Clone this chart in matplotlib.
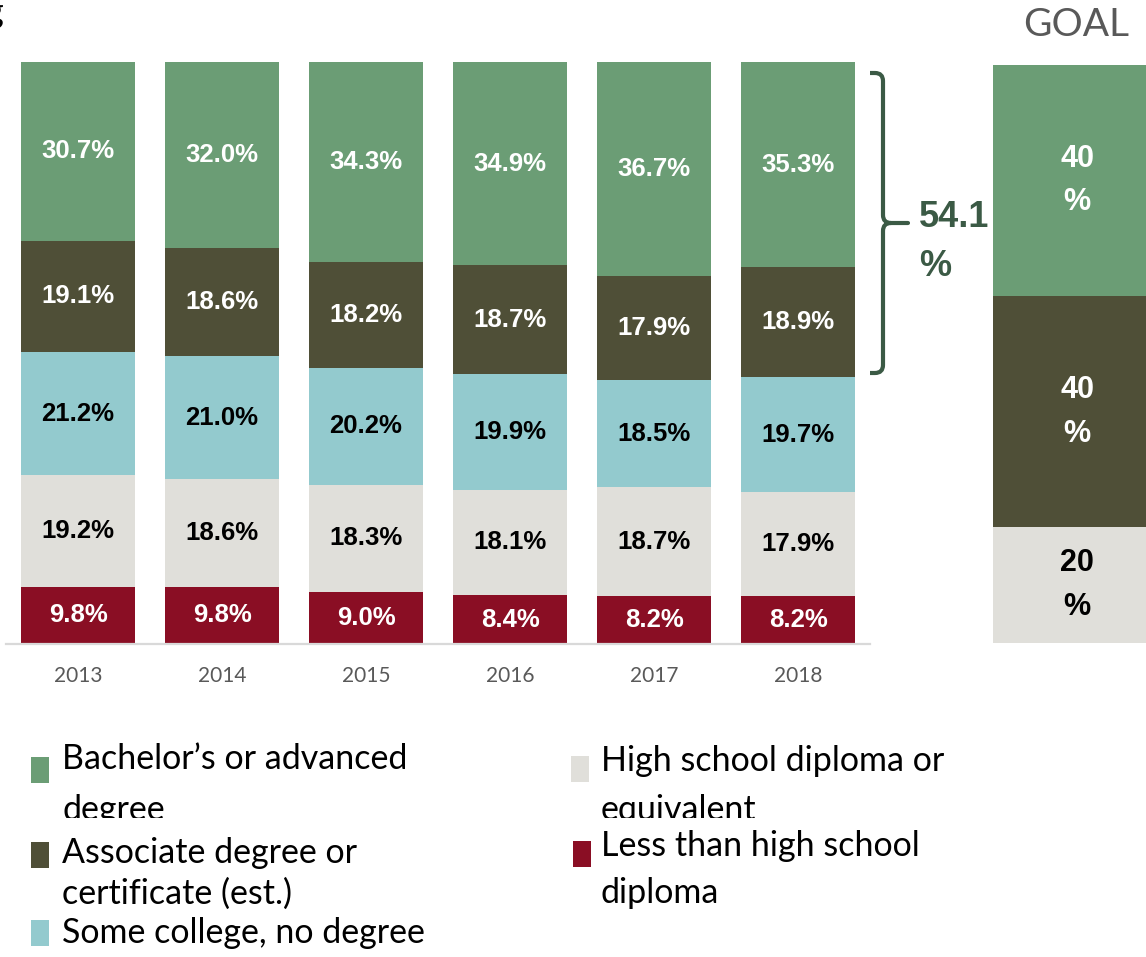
import numpy as np
import matplotlib
matplotlib.use("Agg")
import matplotlib.pyplot as plt
from matplotlib.patches import Rectangle, PathPatch
from matplotlib.path import Path
import matplotlib.transforms as mtransforms

plt.rcParams['font.family'] = ['Lato', 'DejaVu Sans']
BOLD = ['Liberation Sans', 'DejaVu Sans']

years = ['2013', '2014', '2015', '2016', '2017', '2018']
categories = ['Bachelor\u2019s or advanced degree',
              'Associate degree or certificate (est.)',
              'Some college, no degree',
              'High school diploma or equivalent',
              'Less than high school diploma']
bachelor = [30.7, 32.0, 34.3, 34.9, 36.7, 35.3]
associate = [19.1, 18.6, 18.2, 18.7, 17.9, 18.9]
some_college = [21.2, 21.0, 20.2, 19.9, 18.5, 19.7]
high_school = [19.2, 18.6, 18.3, 18.1, 18.7, 17.9]
less_than_hs = [9.8, 9.8, 9.0, 8.4, 8.2, 8.2]
attained = 54.1
goal = [40, 40, 20]  # bachelor's, associate, high school

green = '#6B9D75'
olive = '#4F4F37'
blue = '#93CACE'
light = '#E0DFDA'
red = '#8A0E24'
brace_col = '#3B5A45'

W, H = 1146, 957
fig = plt.figure(figsize=(W / 100, H / 100), dpi=100)
# pixel coordinates measured from the top-left corner
pxT = mtransforms.Affine2D().scale(1, -1).translate(0, H)

# stacked bars, bottom segment first
ax = fig.add_axes([6 / W, 1 - 644 / H, 864 / W, 582 / H])
stack = [(less_than_hs, red, 'white'),
         (high_school, light, 'black'),
         (some_college, blue, 'black'),
         (associate, olive, 'white'),
         (bachelor, green, 'white')]
x = np.arange(len(years))
bottom = np.zeros(len(years))
for vals, col, tcol in stack:
    vals = np.array(vals)
    ax.bar(x, vals, width=114 / 144, bottom=bottom, color=col, linewidth=0)
    for xi, b, v in zip(x, bottom, vals):
        ax.text(xi, b + v / 2, f'{v:.1f}%', ha='center', va='center',
                color=tcol, fontsize=18.5, fontweight='bold', family=BOLD)
    bottom += vals

ax.set_xlim(-0.5, len(years) - 0.5)
ax.set_ylim(0, 100)
ax.set_xticks(x)
ax.set_xticklabels(years, color='#595959', fontsize=15)
ax.tick_params(axis='x', length=0, pad=16)
ax.set_yticks([])
for s in ['top', 'left', 'right']:
    ax.spines[s].set_visible(False)
ax.spines['bottom'].set_color('#D9D9D9')
ax.spines['bottom'].set_linewidth(1.6)
ax.set_zorder(1)

# curly brace next to the 2018 bar
verts = [(862, 73), (875, 73), (883, 73), (883, 81), (883, 215),
         (883, 223), (891, 223), (908, 223),
         (891, 223), (883, 223), (883, 231), (883, 365),
         (883, 373), (875, 373), (862, 373)]
codes = [Path.MOVETO, Path.LINETO, Path.CURVE3, Path.CURVE3, Path.LINETO,
         Path.CURVE3, Path.CURVE3, Path.LINETO,
         Path.MOVETO, Path.CURVE3, Path.CURVE3, Path.LINETO,
         Path.CURVE3, Path.CURVE3, Path.LINETO]
fig.add_artist(PathPatch(Path(verts, codes), transform=pxT, fill=False,
                         edgecolor=brace_col, linewidth=3, capstyle='round',
                         joinstyle='round'))
fig.text(919, 242, f'{attained:.1f}\n%', transform=pxT, ha='left', va='center',
         color=brace_col, fontsize=26, fontweight='bold', family=BOLD,
         linespacing=1.55)

# goal bar
gax = fig.add_axes([993 / W, 1 - 643 / H, 153 / W, 578 / H])
gstack = [(goal[2], light, 'black'), (goal[1], olive, 'white'), (goal[0], green, 'white')]
gb = 0
for v, col, tcol in gstack:
    gax.bar(0.5, v, width=1, bottom=gb, color=col, linewidth=0)
    gax.text(0.55, gb + v / 2, f'{v}\n%', ha='center', va='center', color=tcol,
             fontsize=22, fontweight='bold', family=BOLD, linespacing=1.6)
    gb += v
gax.set_xlim(0, 1)
gax.set_ylim(0, 100)
gax.axis('off')
gax.set_zorder(2)

fig.text(1076, 25, 'GOAL', transform=pxT, ha='center', va='center',
         color='#595959', fontsize=28)
fig.text(4, 23, 'g', transform=pxT, ha='right', va='baseline',
         color='black', fontsize=26)

# legend, two columns
legend_items = [
    (green, (31, 757), ['Bachelor\u2019s or advanced', 'degree'], (62, [769, 820])),
    (olive, (31, 842), ['Associate degree or', 'certificate (est.)'], (62, [863, 904])),
    (blue, (31, 920), ['Some college, no degree'], (62, [943])),
    (light, (571, 756), ['High school diploma or', 'equivalent'], (601, [771, 820])),
    (red, (573, 841), ['Less than high school', 'diploma'], (601, [856, 903])),
]
clip = mtransforms.Bbox.from_extents(0, H - 818, W, H)
for col, (sx, sy), lines, (tx, bases) in legend_items:
    fig.add_artist(Rectangle((sx, sy), 18, 26, transform=pxT,
                             facecolor=col, edgecolor='none'))
    for line, yb in zip(lines, bases):
        t = fig.text(tx, yb, line, transform=pxT, ha='left', va='baseline',
                     color='black', fontsize=24.5)
        if yb == 820:
            t.set_clip_on(True)
            t.set_clip_box(clip)

fig.savefig('out.png', dpi=100)
